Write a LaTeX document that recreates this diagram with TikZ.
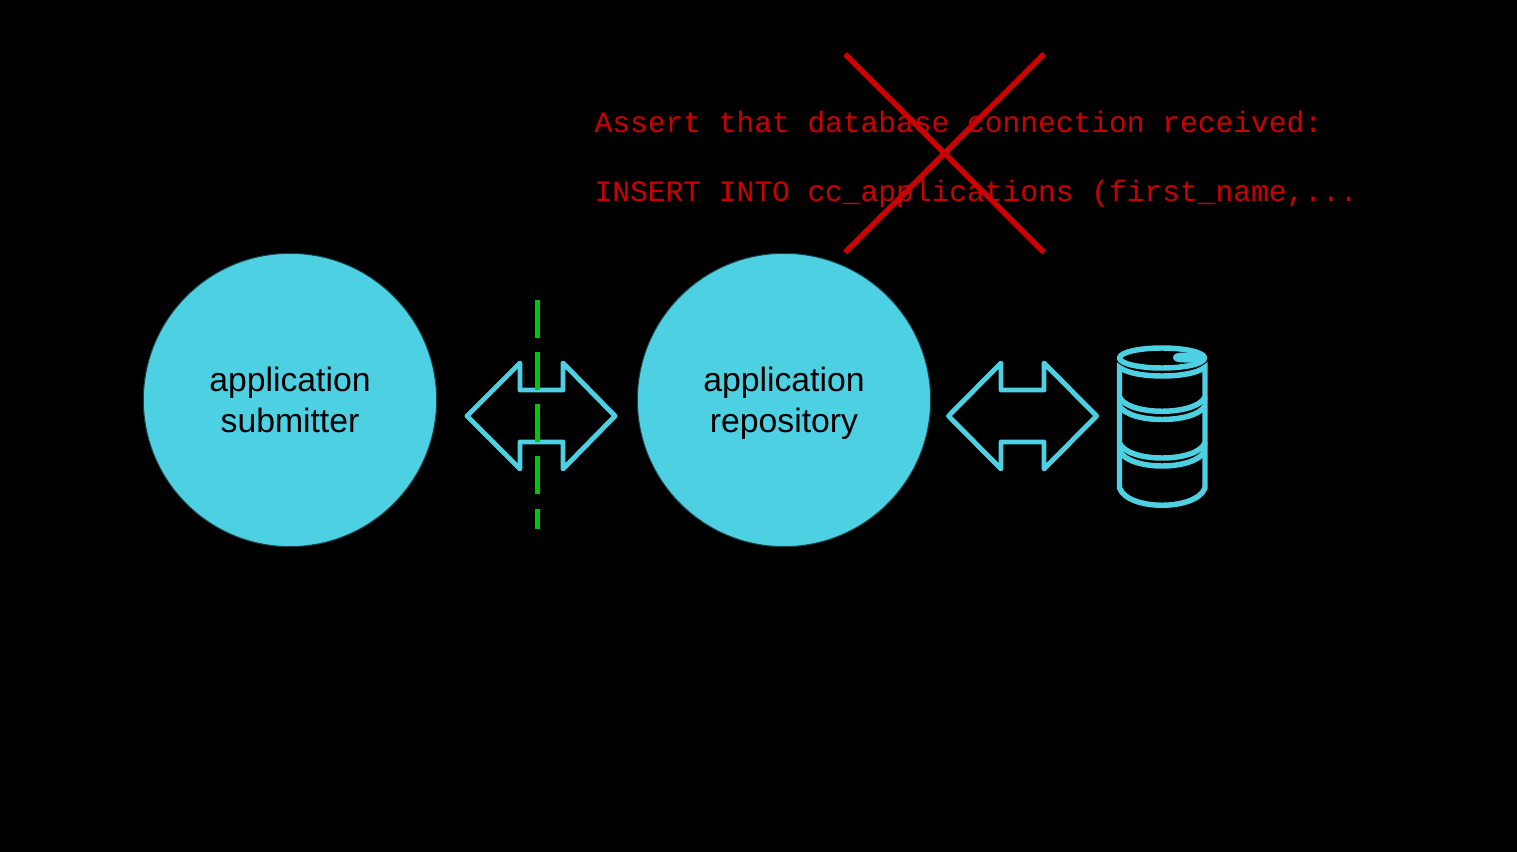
\documentclass[tikz,border=0pt]{standalone}
\usepackage{fontspec}
\setmainfont{Liberation Sans}
\setmonofont{Liberation Mono}
\definecolor{cyanfill}{HTML}{4DD0E1}
\definecolor{redx}{HTML}{CC0000}
\definecolor{greenx}{HTML}{00C800}
\tikzset{
  circ/.style={circle,draw=black!70!cyanfill,line width=0.75pt,fill=cyanfill,minimum size=220pt,inner sep=0pt,align=center,font=\fontsize{25.3pt}{30.8pt}\selectfont,text=black},
  code/.style={anchor=base west,inner sep=0pt,text=redx,font=\ttfamily\fontsize{22.18pt}{26pt}\selectfont},
  dbl/.style={draw=cyanfill,line width=3.7pt,line join=round,line cap=round},
  barrel/.style={draw=cyanfill,line width=4.1pt,line join=round},
  crossline/.style={draw=redx,line width=4.1pt},
  dashline/.style={draw=greenx,line width=3.7pt,dash pattern=on 28.4pt off 10.7pt}
}
\begin{document}
\begin{tikzpicture}[x=0.75pt,y=-0.75pt]
\useasboundingbox[fill=black] (0,0) rectangle (1517,852);
\node[code] (l1) at (594.3,133) {Assert that database connection received:};
\node[code] (l2) at (594.3,202) {INSERT INTO cc\_applications (first\_name,...};
\coordinate (xa) at (845,54); \coordinate (xb) at (1044,252.5);
\coordinate (xc) at (1044,54); \coordinate (xd) at (845,252.5);
\path[crossline] (xa) -- (xb) (xc) -- (xd);
\node[circ] (sub) at (290,400) {application\\submitter};
\node[circ] (rep) at (784,400) {\rule{0pt}{22.7pt}application\\repository};
\path[dbl] (467,416) -- (520,363) -- (520,390) -- (563,390) -- (563,363) -- (615,416) -- (563,469) -- (563,442) -- (520,442) -- (520,469) -- cycle;
\path[dbl] (948.5,416) -- (1001,363) -- (1001,390) -- (1044,390) -- (1044,363) -- (1096.5,416) -- (1044,469) -- (1044,442) -- (1001,442) -- (1001,469) -- cycle;
\coordinate (ga) at (537.5,300); \coordinate (gb) at (537.5,529);
\path[dashline] (ga) -- (gb);
% barrel
\path[barrel] (1119.5,358) -- (1119.5,397) .. controls (1128,416) and (1196,416) .. (1205,397) -- (1205,358);
\path[barrel] (1119.5,367) .. controls (1132,379) and (1192,379) .. (1205,367);
\path[barrel] (1119.5,397) -- (1119.5,443) .. controls (1128,463) and (1196,463) .. (1205,443) -- (1205,397);
\path[barrel] (1119.5,406) .. controls (1130,424) and (1194,424) .. (1205,406);
\path[barrel] (1119.5,443) -- (1119.5,488) .. controls (1128,511) and (1196,511) .. (1205,488) -- (1205,443);
\path[barrel] (1119.5,451) .. controls (1130,471) and (1194,471) .. (1205,451);
\path[draw=black,fill=black,line width=1.5pt] (1162,358) ellipse [x radius=46,y radius=13];
\path[barrel,fill=black] (1162,358) ellipse [x radius=42.5,y radius=10];
\path[fill=cyanfill] (1173,357.5) .. controls (1173,353.5) and (1178,352.5) .. (1184,352.5) -- (1203,352.5) -- (1203,362.5) -- (1184,362.5) .. controls (1178,362.5) and (1173,361.5) .. (1173,357.5) -- cycle;
\end{tikzpicture}
\end{document}
